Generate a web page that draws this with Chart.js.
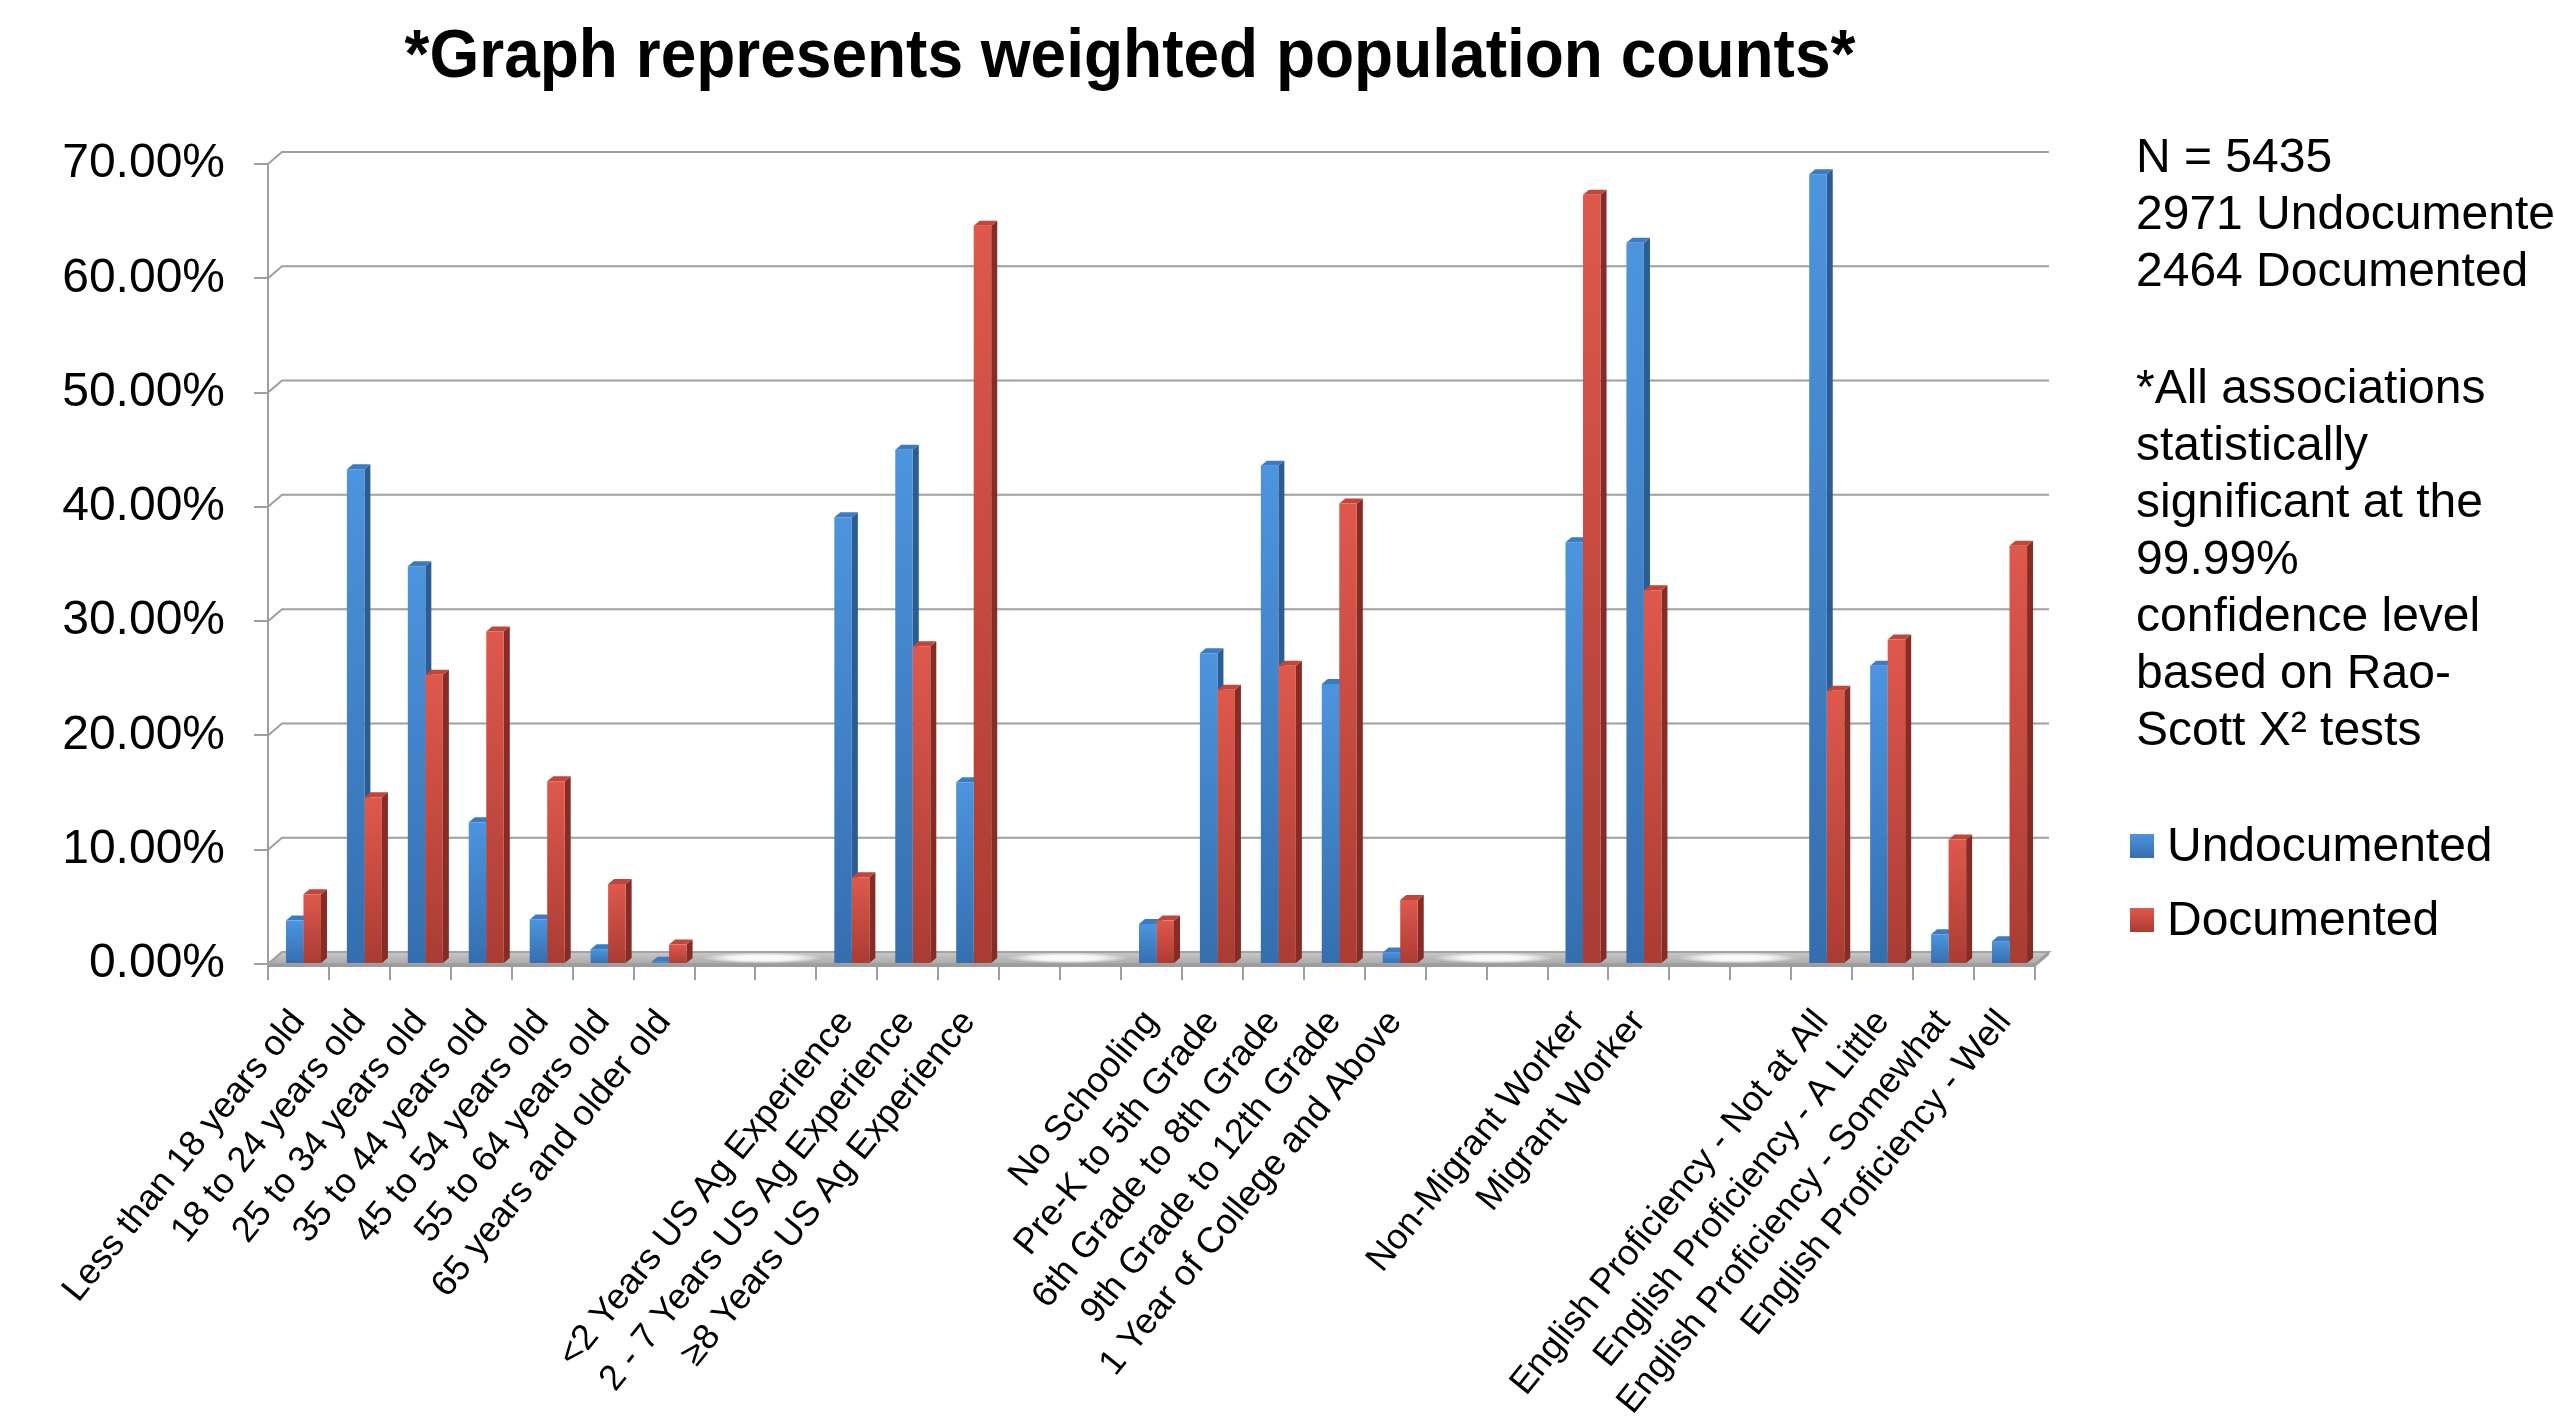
<!DOCTYPE html>
<html>
<head>
<meta charset="utf-8">
<script src="https://cdn.jsdelivr.net/npm/chart.js@4.4.1/dist/chart.umd.min.js"></script>
<style>
html,body{margin:0;padding:0;background:#ffffff;overflow:hidden;}
canvas{display:block;}
</style>
</head>
<body>
<canvas id="c" width="2554" height="1419"></canvas>
<script>
// ---------------- data ----------------
const categories = [
  'Less than 18 years old', '18 to 24 years old', '25 to 34 years old', '35 to 44 years old',
  '45 to 54 years old', '55 to 64 years old', '65 years and older old', '', '',
  '<2 Years US Ag Experience', '2 - 7 Years US Ag Experience', '\u22658 Years US Ag Experience', '', '',
  'No Schooling', 'Pre-K to 5th Grade', '6th Grade to 8th Grade', '9th Grade to 12th Grade',
  '1 Year of College and Above', '', '',
  'Non-Migrant Worker', 'Migrant Worker', '', '',
  'English Proficiency - Not at All', 'English Proficiency - A Little',
  'English Proficiency - Somewhat', 'English Proficiency - Well'
];
const undocumented = [3.8, 43.3, 34.8, 12.4, 3.9, 1.3, 0.2, null, null,
  39.1, 45.0, 15.9, null, null,
  3.5, 27.2, 43.6, 24.5, 1.0, null, null,
  36.9, 63.1, null, null,
  69.1, 26.1, 2.6, 2.0];
const documented = [6.1, 14.6, 25.3, 29.1, 16.0, 7.0, 1.7, null, null,
  7.6, 27.8, 64.6, null, null,
  3.8, 24.0, 26.1, 40.3, 5.6, null, null,
  67.3, 32.7, null, null,
  23.9, 28.4, 10.9, 36.6];
const seriesNames = ['Undocumented', 'Documented'];
const yTicks = [0, 10, 20, 30, 40, 50, 60, 70];
const titleText = '*Graph represents weighted population counts*';
const noteCounts = ['N = 5435', '2971 Undocumented', '2464 Documented'];
const noteStats = ['*All associations', 'statistically', 'significant at the', '99.99%',
  'confidence level', 'based on Rao-', 'Scott X\u00B2 tests'];

// ---------------- style ----------------
const FONT = "'Liberation Sans', Arial, Helvetica, sans-serif";
const WALL_DX = 14, WALL_DY = 12;
const BAR_DX = 6, BAR_DY = 5;
const BAR_SHIFT = 5;   // bars sit mid-depth of the 3D floor, slightly right of the front ticks
const palettes = [
  {top: '#4c95de', bottom: '#356eaf', side: '#2b5c94', cap: '#3a7bc3'},
  {top: '#df584c', bottom: '#aa3c33', side: '#872b25', cap: '#c2453b'}
];
Chart.defaults.font.family = FONT;

function faceGradient(pal) {
  return function(ctx) {
    const chart = ctx.chart;
    if (!chart.chartArea || ctx.type !== 'data' || ctx.raw == null) return pal.top;
    const ys = chart.scales.y;
    const top = ys.getPixelForValue(ctx.raw), base = ys.getPixelForValue(0);
    if (!(base - top > 0.5)) return pal.top;
    const g = chart.ctx.createLinearGradient(0, top, 0, base);
    g.addColorStop(0, pal.top);
    g.addColorStop(1, pal.bottom);
    return g;
  };
}

const threeD = {
  id: 'threeD',
  beforeDatasetsDraw(chart) {
    const {ctx, chartArea: a, scales: {x: xs, y: ys}} = chart;
    ctx.save();
    // back wall gridlines with left-wall connectors
    ctx.strokeStyle = '#9e9e9e';
    ctx.lineWidth = 2;
    yTicks.forEach(t => {
      const py = ys.getPixelForValue(t);
      ctx.beginPath();
      ctx.moveTo(a.left, py);
      ctx.lineTo(a.left + WALL_DX, py - WALL_DY);
      ctx.lineTo(a.right + WALL_DX, py - WALL_DY);
      ctx.stroke();
    });
    // floor slab
    const fy = ys.getPixelForValue(0);
    const floorPath = () => {
      ctx.beginPath();
      ctx.moveTo(a.left, fy);
      ctx.lineTo(a.right, fy);
      ctx.lineTo(a.right + WALL_DX, fy - WALL_DY);
      ctx.lineTo(a.left + WALL_DX, fy - WALL_DY);
      ctx.closePath();
    };
    floorPath();
    const fg = ctx.createLinearGradient(0, fy - WALL_DY, 0, fy);
    fg.addColorStop(0, '#c9c9c9');
    fg.addColorStop(1, '#a9a9a9');
    ctx.fillStyle = fg;
    ctx.fill();
    // glare on floor in empty category runs
    ctx.save();
    floorPath();
    ctx.clip();
    const w = xs.getPixelForValue(1) - xs.getPixelForValue(0);
    let i = 0;
    while (i < categories.length) {
      if (undocumented[i] == null && documented[i] == null) {
        let j = i;
        while (j + 1 < categories.length && undocumented[j + 1] == null && documented[j + 1] == null) j++;
        const l = xs.getPixelForValue(i) - w / 2, r = xs.getPixelForValue(j) + w / 2;
        const cx = (l + r) / 2 + WALL_DX / 2, cy = fy - WALL_DY / 2;
        ctx.save();
        ctx.translate(cx, cy);
        ctx.scale((r - l) * 0.5, WALL_DY * 0.45);
        const rg = ctx.createRadialGradient(0, 0, 0, 0, 0, 1);
        rg.addColorStop(0, 'rgba(255,255,255,1)');
        rg.addColorStop(0.55, 'rgba(255,255,255,0.85)');
        rg.addColorStop(1, 'rgba(255,255,255,0)');
        ctx.fillStyle = rg;
        ctx.beginPath();
        ctx.arc(0, 0, 1, 0, Math.PI * 2);
        ctx.fill();
        ctx.restore();
        i = j + 1;
      } else i++;
    }
    ctx.restore();
    floorPath();
    ctx.strokeStyle = '#a2a2a2';
    ctx.lineWidth = 2;
    ctx.stroke();
    ctx.fillStyle = '#9c9c9c';
    ctx.fillRect(a.left, fy, a.right - a.left, 3);
    ctx.beginPath();
    ctx.moveTo(a.right, fy); ctx.lineTo(a.right + WALL_DX, fy - WALL_DY);
    ctx.lineTo(a.right + WALL_DX, fy - WALL_DY + 3); ctx.lineTo(a.right, fy + 3);
    ctx.closePath(); ctx.fill();

    // bar sides and caps (fronts drawn by Chart.js afterwards)
    ctx.translate(BAR_SHIFT, 0);
    chart.data.datasets.forEach((ds, di) => {
      const pal = palettes[di];
      chart.getDatasetMeta(di).data.forEach((el, k) => {
        if (ds.data[k] == null) return;
        const p = el.getProps(['x', 'y', 'base', 'width'], true);
        const x1 = p.x - p.width / 2, x2 = p.x + p.width / 2;
        ctx.fillStyle = pal.side;
        ctx.beginPath();
        ctx.moveTo(x2, p.y); ctx.lineTo(x2 + BAR_DX, p.y - BAR_DY);
        ctx.lineTo(x2 + BAR_DX, p.base - BAR_DY); ctx.lineTo(x2, p.base);
        ctx.closePath(); ctx.fill();
        ctx.fillStyle = pal.cap;
        ctx.beginPath();
        ctx.moveTo(x1, p.y); ctx.lineTo(x1 + BAR_DX, p.y - BAR_DY);
        ctx.lineTo(x2 + BAR_DX, p.y - BAR_DY); ctx.lineTo(x2, p.y);
        ctx.closePath(); ctx.fill();
      });
    });
    ctx.restore();
  },
  beforeDatasetDraw(chart) {
    chart.ctx.save();
    chart.ctx.translate(BAR_SHIFT, 0);
  },
  afterDatasetDraw(chart) {
    chart.ctx.restore();
  },
  afterDraw(chart) {
    const ctx = chart.ctx;
    ctx.save();
    ctx.fillStyle = '#000';
    // title (slightly tall glyphs as in the original)
    ctx.save();
    ctx.textAlign = 'center';
    ctx.textBaseline = 'middle';
    ctx.font = 'bold 64px ' + FONT;
    ctx.translate(1130, 58);
    ctx.scale(1, 1.06);
    ctx.fillText(titleText, 0, 0);
    ctx.restore();
    // side notes
    ctx.textAlign = 'left';
    ctx.textBaseline = 'middle';
    ctx.font = '48px ' + FONT;
    noteCounts.forEach((t, k) => ctx.fillText(t, 2136, 159 + k * 57));
    noteStats.forEach((t, k) => ctx.fillText(t, 2136, 390 + k * 57));
    // legend
    chart.data.datasets.forEach((ds, di) => {
      const pal = palettes[di];
      const sy = 834 + di * 74;
      const g = ctx.createLinearGradient(0, sy, 0, sy + 24);
      g.addColorStop(0, pal.top); g.addColorStop(1, pal.bottom);
      ctx.fillStyle = g;
      ctx.fillRect(2130, sy, 24, 24);
      ctx.fillStyle = '#000';
      ctx.fillText(ds.label, 2167, sy + 14);
    });
    ctx.restore();
  }
};

new Chart(document.getElementById('c'), {
  type: 'bar',
  data: {
    labels: categories,
    datasets: [
      {label: seriesNames[0], data: undocumented, backgroundColor: faceGradient(palettes[0]), borderWidth: 0},
      {label: seriesNames[1], data: documented, backgroundColor: faceGradient(palettes[1]), borderWidth: 0}
    ]
  },
  options: {
    responsive: false,
    animation: false,
    devicePixelRatio: 1,
    categoryPercentage: 0.575,
    barPercentage: 1,
    layout: {padding: {top: 164, left: 0, right: 519, bottom: 0}},
    plugins: {
      legend: {display: false},
      tooltip: {enabled: false},
      title: {display: false}
    },
    scales: {
      x: {
        offset: true,
        ticks: {autoSkip: false, minRotation: 51, maxRotation: 51, color: '#000',
          font: {size: 36, family: FONT}, padding: 22},
        grid: {offset: true, drawOnChartArea: false, drawTicks: true, tickLength: 16,
          color: '#9e9e9e', lineWidth: 2},
        border: {display: false},
        afterFit(s) { s.height = 455; s.paddingLeft = 0; s.paddingRight = 0; }
      },
      y: {
        min: 0, max: 70,
        ticks: {stepSize: 10, color: '#000', font: {size: 48, family: FONT}, padding: 29,
          callback: v => Number(v).toFixed(2) + '%'},
        grid: {drawOnChartArea: false, drawTicks: true, tickLength: 14, color: '#9e9e9e', lineWidth: 2},
        border: {display: true, color: '#9e9e9e', width: 2},
        afterFit(s) { s.width = 268; s.paddingTop = 0; s.paddingBottom = 0; }
      }
    }
  },
  plugins: [threeD]
});
</script>
</body>
</html>
